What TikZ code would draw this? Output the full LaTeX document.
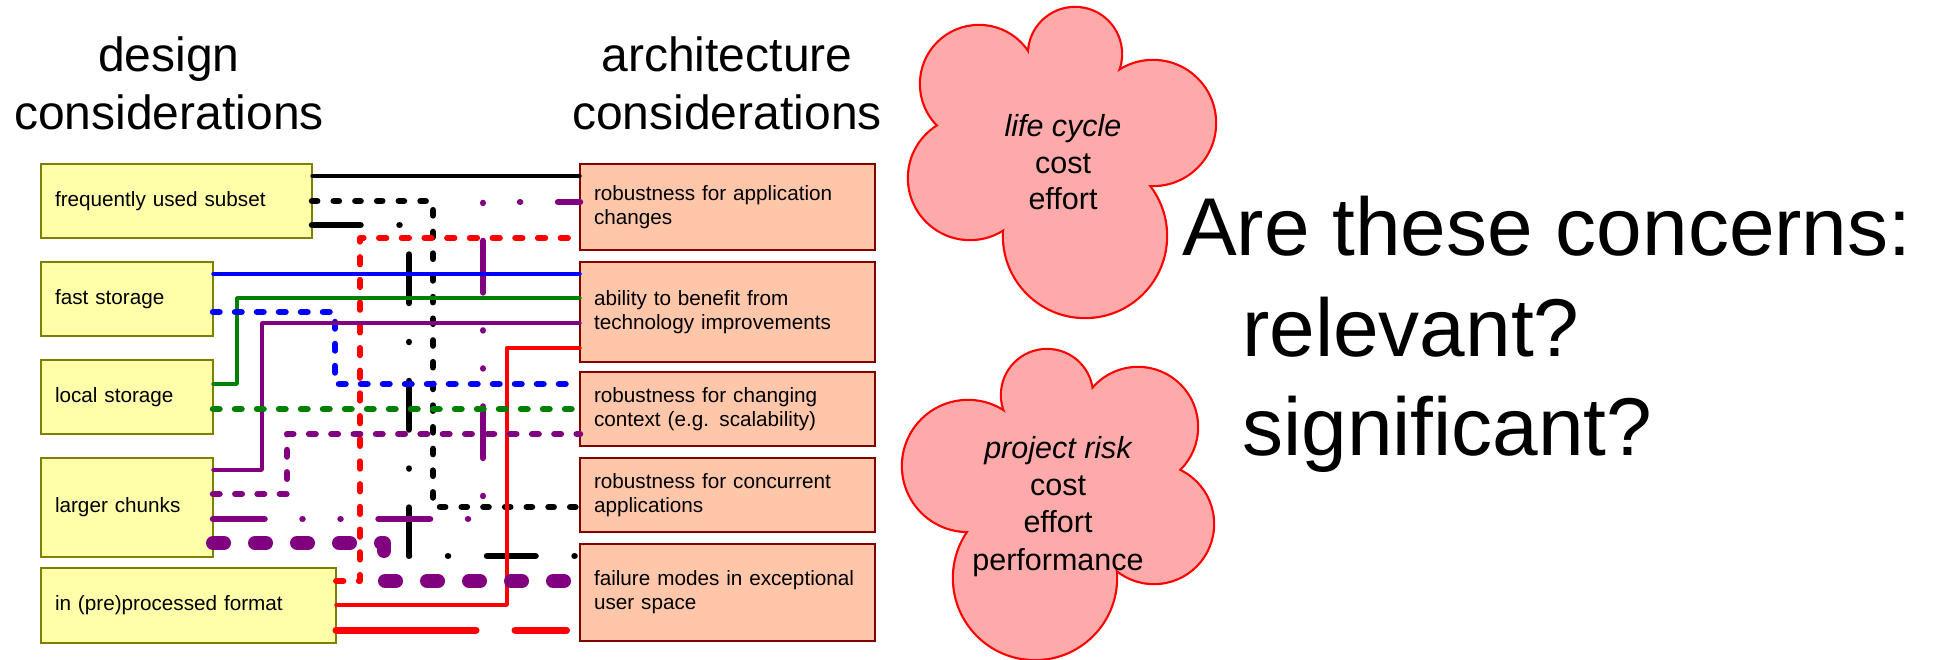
\documentclass[tikz,border=0pt]{standalone}
\usepackage{fontspec}
\setmainfont{Liberation Sans}
\definecolor{lfill}{RGB}{255,255,170}
\definecolor{lborder}{RGB}{128,128,0}
\definecolor{rfill}{RGB}{255,198,170}
\definecolor{rborder}{RGB}{128,0,0}
\definecolor{cfill}{RGB}{255,170,170}
\definecolor{cline}{RGB}{255,0,0}
\definecolor{purp}{RGB}{128,0,128}
\definecolor{grn}{RGB}{0,128,0}
\definecolor{blu}{RGB}{0,0,255}
\definecolor{rd}{RGB}{255,0,0}
\newcommand\boxfont{\fontsize{20.7pt}{24pt}\selectfont}
\newcommand\titlefont{\fontsize{48pt}{58pt}\selectfont}
\newcommand\cloudfont{\fontsize{30.5pt}{37pt}\selectfont}
\newcommand\bigfont{\fontsize{82pt}{100pt}\selectfont}
\begin{document}
\begin{tikzpicture}[x=1pt,y=-1pt,
  lbox/.style={draw=lborder, fill=lfill, line width=2pt, outer sep=0pt, inner xsep=14pt, inner ysep=2pt, align=left, anchor=north west, font=\boxfont},
  rbox/.style={lbox, draw=rborder, fill=rfill, line width=2.5pt},
  conn/.style={line cap=round, line join=round},
  thinln/.style={conn, line width=3.4pt},
  blkdash/.style={conn, black, line width=6.5pt, dash pattern=on 5.2pt off 16.5pt},
  blkdashdot/.style={conn, black, line width=6.5pt, dash pattern=on 48.5pt off 39pt on 0.01pt off 39pt},
  purpdashdotdot/.style={conn, purp, line width=6.5pt, dash pattern=on 51.5pt off 38pt on 0.01pt off 38pt on 0.01pt off 38pt},
  reddash/.style={conn, rd, line width=5.8pt, dash pattern=on 7.5pt off 15.2pt},
  bluedash/.style={conn, blu, line width=6.5pt, dash pattern=on 6.5pt off 15.5pt},
  greendash/.style={conn, grn, line width=6.5pt, dash pattern=on 6.5pt off 15.5pt},
  purpdash/.style={conn, purp, line width=6.5pt, dash pattern=on 6.5pt off 15.8pt},
  purpheavy/.style={conn, purp, line width=14pt, dash pattern=on 11pt off 31pt},
  redlong/.style={conn, rd, line width=7pt, dash pattern=on 140pt off 39pt},
  cloudedge/.style={draw=cline, line width=4.4pt},
  cloudbody/.style={fill=cfill},
  ttl/.style={anchor=base, font=\titlefont, inner sep=0pt},
  ctext/.style={anchor=base, font=\cloudfont, inner sep=0pt},
  bigtext/.style={anchor=base west, font=\bigfont, inner sep=0pt}
]
\useasboundingbox (0,0) rectangle (1937,660);
\fill[white] (0,0) rectangle (1937,660);

% clouds
\foreach \cx/\cy/\r in {1075/54/46, 1153/123/62, 1085/236/81, 970/178/61, 979/84/58}
  \draw[cloudedge] (\cx,\cy) circle[radius=\r];
\foreach \cx/\cy/\r in {1075/54/46, 1153/123/62, 1085/236/81, 970/178/61, 979/84/58, 1065/150/75}
  \fill[cloudbody] (\cx,\cy) circle[radius=\r];
\foreach \cx/\cy/\r in {1047/395/45, 1138/427/59, 1154/524/59, 1035/578/81, 968/466/65}
  \draw[cloudedge] (\cx,\cy) circle[radius=\r];
\foreach \cx/\cy/\r in {1047/395/45, 1138/427/59, 1154/524/59, 1035/578/81, 968/466/65, 1060/490/75}
  \fill[cloudbody] (\cx,\cy) circle[radius=\r];

\node[ctext] (c1a) at (1063,137) {\itshape life cycle};
\node[ctext] (c1b) at (1063,174) {cost};
\node[ctext] (c1c) at (1063,210) {effort};
\node[ctext] (c2a) at (1058,458) {\itshape project risk};
\node[ctext] (c2b) at (1058,495) {cost};
\node[ctext] (c2c) at (1058,532) {effort};
\node[ctext] (c2d) at (1058,570) {performance};

% titles
\node[ttl] (t1a) at (169,72) {design};
\node[ttl] (t1b) at (169,130) {considerations};
\node[ttl] (t2a) at (727,72) {architecture};
\node[ttl] (t2b) at (727,130) {considerations};

% big question
\node[bigtext] (q1) at (1182,256) {Are these concerns:};
\node[bigtext] (q2) at (1242,356) {relevant?};
\node[bigtext] (q3) at (1242,455) {significant?};

% left boxes
\node[lbox, minimum width=271pt, minimum height=74pt, text width=243pt] (L1) at (41,164) {frequently used subset};
\node[lbox, minimum width=172pt, minimum height=74pt, text width=144pt] (L2) at (41,262) {fast storage};
\node[lbox, minimum width=172pt, minimum height=74pt, text width=144pt] (L3) at (41,360) {local storage};
\node[lbox, minimum width=172pt, minimum height=99pt, text width=144pt] (L4) at (41,458) {larger chunks};
\node[lbox, minimum width=295pt, minimum height=75pt, text width=267pt] (L5) at (41,568) {in (pre)processed format};

% right boxes
\node[rbox, minimum width=295pt, minimum height=86pt, text width=267pt] (R1) at (580,164) {robustness for application\\changes};
\node[rbox, minimum width=295pt, minimum height=100pt, text width=267pt] (R2) at (580,262) {ability to benefit from\\technology improvements};
\node[rbox, minimum width=295pt, minimum height=74pt, text width=267pt] (R3) at (580,372) {robustness for changing\\context (e.g. scalability)};
\node[rbox, minimum width=295pt, minimum height=74pt, text width=267pt] (R4) at (580,458) {robustness for concurrent\\applications};
\node[rbox, minimum width=295pt, minimum height=97pt, text width=267pt] (R5) at (580,544) {failure modes in exceptional\\user space};

% connectors
\draw[thinln, black] (L1.east |- 0,176) -- (R1.west |- 0,176);
\draw[blkdash] (L1.east |- 0,201) -- (433,201) -- (433,507) -- (R4.west |- 0,507);
\draw[blkdashdot] (L1.east |- 0,225) -- (409,225) -- (409,556) -- (R5.west |- 0,556);
\draw[purpdashdotdot] (L4.east |- 0,519) -- (483,519) -- (483,202) -- (R1.west |- 0,202);
\draw[reddash] (L5.east |- 0,581) -- (360,581) -- (360,238) -- (R1.west |- 0,238);
\draw[thinln, blu] (L2.east |- 0,274) -- (R2.west |- 0,274);
\draw[thinln, grn] (L3.east |- 0,384) -- (237,384) -- (237,298) -- (R2.west |- 0,298);
\draw[bluedash] (L2.east |- 0,312) -- (335,312) -- (335,384) -- (R3.west |- 0,384);
\draw[thinln, purp] (L4.east |- 0,470) -- (262,470) -- (262,323) -- (R2.west |- 0,323);
\draw[thinln, rd] (L5.east |- 0,605) -- (507,605) -- (507,348) -- (R2.west |- 0,348);
\draw[greendash] (L3.east |- 0,409) -- (R3.west |- 0,409);
\draw[purpdash] (L4.east |- 0,494) -- (287,494) -- (287,434) -- (R3.west |- 0,434);
\draw[purpheavy] (L4.east |- 0,543) -- (384,543) -- (384,581) -- (R5.west |- 0,581);
\draw[redlong, shorten >=13.5pt] (L5.east |- 0,630) -- (R5.west |- 0,630);
\end{tikzpicture}
\end{document}
